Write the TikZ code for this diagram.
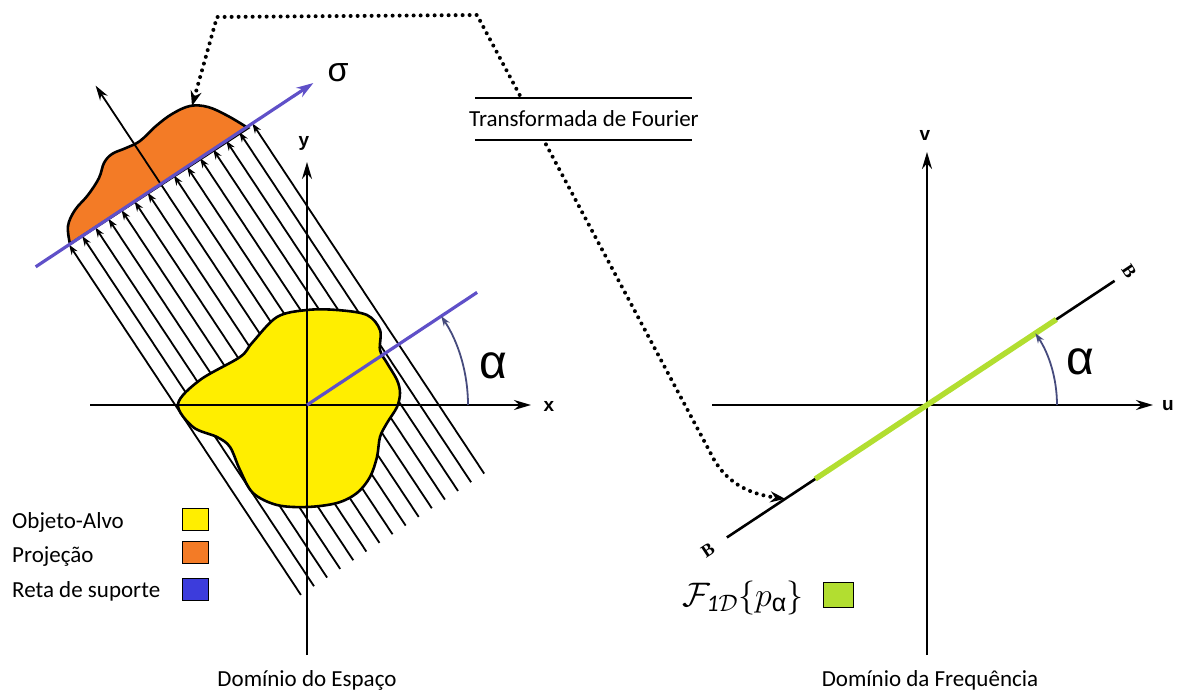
\RequirePackage{fix-cm}
\documentclass[tikz,border=0pt]{standalone}
\usepackage{fontspec}
\setmainfont{Carlito}
\newfontfamily\arialf{Liberation Sans}
\newfontfamily\serff{Liberation Serif}
\usetikzlibrary{arrows.meta,calc}
\definecolor{objyellow}{RGB}{255,238,0}
\definecolor{projorange}{RGB}{243,123,38}
\definecolor{linepurple}{RGB}{95,80,200}
\definecolor{legblue}{RGB}{60,60,220}
\definecolor{fgreen}{RGB}{178,222,48}
\definecolor{arcslate}{RGB}{70,75,125}
\begin{document}
\begin{tikzpicture}[x=1pt,y=-1pt,
 axis/.style={line width=2.1pt,-{Stealth[length=17pt,width=10pt]}},
 ray/.style={line width=1.8pt,-{Stealth[length=10pt,width=7pt]}},
 blob/.style={line width=2.6pt,draw=black},
 anglearc/.style={draw=arcslate,line width=1.8pt,-{Stealth[length=10pt,width=7pt]}},
 dotline/.style={line width=4pt,dash pattern=on 0pt off 7pt,line cap=round},
 lbl/.style={font=\fontsize{23}{27}\selectfont,inner sep=0pt},
 axlbl/.style={font=\arialf\bfseries\fontsize{19}{22}\selectfont,inner sep=0pt},
 blbl/.style={font=\serff\bfseries\fontsize{18}{20}\selectfont,inner sep=0pt},
 greek/.style={font=\arialf\fontsize{48}{50}\selectfont,inner sep=0pt},
 legsq/.style={draw=black,line width=1pt,minimum width=26pt,minimum height=22pt,inner sep=0pt},
]
\useasboundingbox (0,0) rectangle (1187,696);

% ---------------- spatial domain ----------------
\coordinate (O) at (307,405);
\coordinate (C) at ($(O)+(236.5:265)$);
\foreach \k in {-7,-6,-5,-4,-3,-2,-1,1,2,3,4,5,6,7}{
  \draw[ray] ($(C)+(-33.5:\k*15.7)+(56.5:420)$) -- ($(C)+(-33.5:\k*15.7)$);
}
% projection (orange)
\draw[blob,fill=projorange] plot[smooth,tension=0.6] coordinates {(70,244) (68,226) (75,210) (88,195) (99,178) (104,163) (112,154) (126,148) (140,141) (156,126) (172,114) (190,106) (208,107) (228,116) (248,128)} -- cycle;
% central ray + normal arrow
\draw[line width=1.8pt,-{Stealth[length=15pt,width=9pt]}] ($(C)+(56.5:420)$) -- ($(C)+(236.5:118)$);
% object (yellow)
\draw[blob,fill=objyellow] plot[smooth cycle,tension=0.55] coordinates {(178,404) (200,380) (240,357) (252,343) (277,317) (307,310) (337,310) (367,315) (380,330) (380,350) (387,363) (397,380) (400,393) (397,407) (387,423) (380,437) (377,457) (370,477) (357,493) (337,503) (307,507) (277,505) (253,493) (240,470) (230,447) (217,437) (193,427)};
% sigma line
\draw[draw=linepurple,line width=3.2pt,-{Stealth[length=17pt,width=11pt]}] ($(C)+(-33.5:-150)$) -- ($(C)+(-33.5:183)$);
\node[greek,font=\arialf\fontsize{34}{36}\selectfont] (sigma) at (338,73) {σ};
% axes
\draw[axis] (90,405) -- (531,405);
\draw[axis] (307,655) -- (307,162);
\node[axlbl] (xl) at (549,406) {x};
\node[axlbl] (yl) at (304,143) {y};
% support line + angle
\draw[draw=linepurple,line width=3.2pt] (O) -- ($(O)+(-33.5:204)$);
\draw[anglearc] ($(O)+(0:161)$) arc[start angle=0,end angle=-33.5,radius=161];
\node[greek] (al1) at (493,366) {α};

% legend
\node[lbl,anchor=base west] (lo) at (12,528) {Objeto-Alvo};
\node[lbl,anchor=base west] (lp) at (12,562) {Projeção};
\node[lbl,anchor=base west] (lr) at (12,597) {Reta de suporte};
\node[legsq,fill=objyellow] (sq1) at (195,519) {};
\node[legsq,fill=projorange] (sq2) at (195,552.5) {};
\node[legsq,fill=legblue] (sq3) at (195,589) {};
\node[lbl] (dom1) at (307,680) {Domínio do Espaço};

% ---------------- frequency domain ----------------
\coordinate (F) at (927,405);
\draw[axis] (712,405) -- (1153,405);
\draw[axis] (927,655) -- (927,152);
\node[axlbl] (ul) at (1168,406) {u};
\node[axlbl] (vl) at (925,135) {v};
\coordinate (Bt) at ($(F)+(-33.5:225)$);
\coordinate (Bb) at ($(F)+(-33.5:-240)$);
\draw[line width=2.6pt] (Bb) -- (Bt);
\draw[draw=fgreen,line width=5.5pt] ($(F)+(-33.5:-134)$) -- ($(F)+(-33.5:155)$);
\draw[anglearc] ($(F)+(0:130)$) arc[start angle=0,end angle=-33.5,radius=130];
\node[greek] (al2) at (1080,362) {α};
\node[blbl,rotate=-56.5] (bt) at (1129,271) {B};
\node[blbl,rotate=33.5] (bb) at (708,550) {B};
\node[anchor=base west,inner sep=0pt] (fl) at (682,606) {\fontsize{34}{36}\selectfont $\mathcal{F}_{\mathit{1}\mathcal{D}}\{p_{\mbox{\arialf\fontsize{25}{27}\selectfont α}}\}$};
\node[legsq,fill=fgreen,minimum width=30pt,minimum height=25pt] (sq4) at (838,594.5) {};
\node[lbl] (dom2) at (930,680) {Domínio da Frequência};

% ---------------- Fourier transform connector ----------------
\coordinate (ptop) at (192,106);
\coordinate (hit) at ($(F)+(-33.5:-170)$);
\draw[dotline,{Stealth[length=15pt,width=11pt]}-{Stealth[length=15pt,width=11pt]}] (ptop) -- (217,17) -- (477,15) -- (710,452) .. controls (724,482) and (748,494) .. (hit);
\node[lbl,fill=white,inner xsep=2pt,minimum height=40pt] (ft) at (584,119) {Transformada de Fourier};
\draw[line width=2.2pt] (475,98) -- (692,98);
\draw[line width=2.2pt] (475,140) -- (692,140);
\end{tikzpicture}
\end{document}
